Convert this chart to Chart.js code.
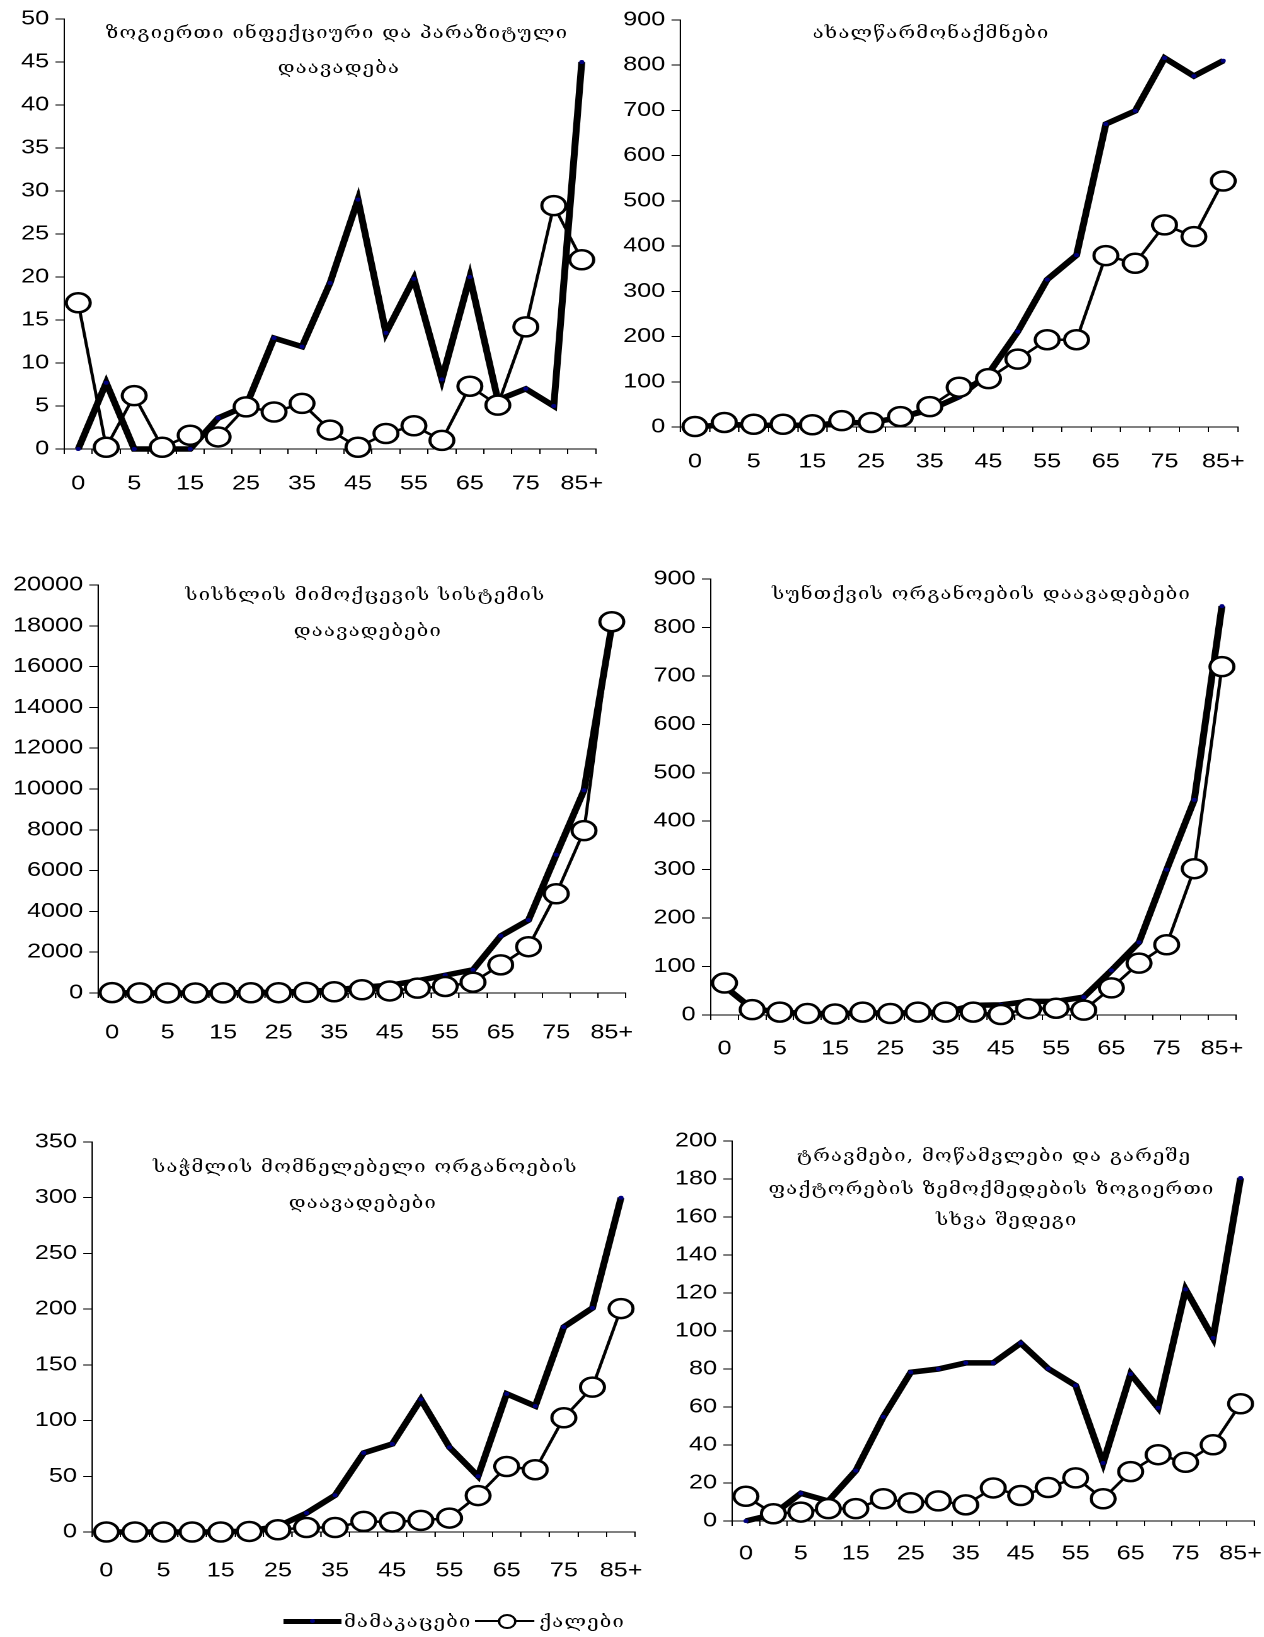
<!DOCTYPE html>
<html>
<head>
<meta charset="utf-8">
<script src="https://cdn.jsdelivr.net/npm/chart.js@4/dist/chart.umd.min.js"></script>
<style>
  body { margin: 0; background: #fff; overflow: hidden; }
  /* the whole sheet is drawn narrow and widened, so text and markers come out wide */
  #sheet { position: relative; width: 1003px; height: 1637px; transform: scaleX(1.26); transform-origin: 0 0; }
  .panel { position: absolute; }
  .title, .legend-text {
    position: absolute; white-space: nowrap; color: #000;
    font-family: "DejaVu Serif", "DejaVu Sans", serif; font-size: 16px; letter-spacing: 1px;
  }
  .title { transform: translate(-50%, -50%); }
  .legend-text { transform: translateY(-50%); }
  .legend-line { position: absolute; background: #000; }
  .legend-dot { position: absolute; width: 4px; height: 4px; background: #000080; border-radius: 50%; }
  .legend-circle { position: absolute; width: 11px; height: 11px; border: 2px solid #000; border-radius: 50%; background: #fff; }
</style>
</head>
<body>
<div id="sheet"></div>
<script>
const ages = ["0", "1", "5", "10", "15", "20", "25", "30", "35", "40", "45", "50", "55", "60", "65", "70", "75", "80", "85+"];

const infectiousMen = [0, 7.7, 0, 0, 0, 3.6, 5, 12.9, 11.9, 19.3, 29, 13.5, 19.8, 8.1, 20, 5.7, 7, 5, 45];
const infectiousWomen = [17, 0.2, 6.2, 0.2, 1.6, 1.4, 4.9, 4.3, 5.3, 2.2, 0.2, 1.8, 2.7, 1, 7.3, 5.1, 14.2, 28.3, 22];

const neoplasmMen = [0, 5, 4, 4, 4, 9, 10, 21, 38, 67, 118, 211, 326, 380, 670, 699, 816, 776, 810];
const neoplasmWomen = [1, 10, 6, 6, 5, 14, 10, 23, 45, 88, 107, 150, 193, 193, 379, 362, 447, 421, 544];

const circulatoryMen = [10, 5, 3, 3, 10, 20, 40, 80, 150, 280, 380, 600, 870, 1135, 2800, 3570, 6780, 9940, 18000];
const circulatoryWomen = [20, 5, 3, 2, 5, 10, 15, 30, 60, 160, 100, 240, 320, 530, 1380, 2270, 4865, 7960, 18200];

const respiratoryMen = [59, 13, 6, 3, 3, 4, 4, 5, 6, 20, 21, 28, 28, 37, 92, 150, 300, 444, 844];
const respiratoryWomen = [66, 11, 6, 3, 2, 6, 3, 6, 6, 6, 1, 13, 14, 10, 56, 107, 145, 302, 719];

const digestiveMen = [0, 0, 0, 0, 0, 1, 5, 17, 33, 71, 79, 119, 76, 50, 124, 113, 184, 201, 300];
const digestiveWomen = [0, 0, 0, 0, 0, 0.5, 2, 4, 4, 9.5, 9, 10.4, 12.5, 32.7, 58.8, 55.9, 102.5, 130, 200.5];

const injuryMen = [0, 3.5, 14.6, 10.5, 26.5, 54.8, 78.3, 80, 83.2, 83.2, 93.6, 80.2, 71.3, 30.5, 77.4, 59.6, 121.9, 96.3, 180.5];
const injuryWomen = [13, 3.8, 4.7, 6.5, 6.5, 11.7, 9.6, 10.6, 8.5, 17.4, 13.4, 17.6, 22.7, 11.7, 26, 34.9, 30.9, 40.1, 61.7];

const yMax = [50, 900, 20000, 900, 350, 200];
const yStep = [5, 100, 2000, 100, 50, 20];

const seriesNames = ["მამაკაცები", "ქალები"];

const titles = [
  ["ზოგიერთი ინფექციური და პარაზიტული", "დაავადება"],
  ["ახალწარმონაქმნები"],
  ["სისხლის მიმოქცევის სისტემის", "დაავადებები"],
  ["სუნთქვის ორგანოების დაავადებები"],
  ["საჭმლის მომნელებელი ორგანოების", "დაავადებები"],
  ["ტრავმები, მოწამვლები და გარეშე", "ფაქტორების ზემოქმედების ზოგიერთი", "სხვა შედეგი"]
];

// plot rectangles [left, top, right, bottom], x-label padding, title line centres [x, y]
const layouts = [
  { plot: [50.8, 16, 477, 449], xPad: 18, titleAt: [[267.5, 32], [269, 67]] },
  { plot: [539.7, 17, 986.5, 427], xPad: 18, titleAt: [[739, 32]] },
  { plot: [77.8, 582, 506.3, 993], xPad: 23, titleAt: [[290, 594], [292, 630]] },
  { plot: [563.9, 576, 983.7, 1015], xPad: 17, titleAt: [[779, 593]] },
  { plot: [73, 1139, 511.9, 1532], xPad: 22, titleAt: [[290, 1166], [288, 1202]] },
  { plot: [581, 1138, 997.6, 1521], xPad: 16, titleAt: [[789, 1155], [787, 1188], [799, 1219]] }
];

const series = [
  [infectiousMen, infectiousWomen],
  [neoplasmMen, neoplasmWomen],
  [circulatoryMen, circulatoryWomen],
  [respiratoryMen, respiratoryWomen],
  [digestiveMen, digestiveWomen],
  [injuryMen, injuryWomen]
];

const Y_AXIS_W = 75;
const X_AXIS_H = 50;
const PAD_TOP = 14;
const PAD_RIGHT = 20;
const tickFont = { family: "'Liberation Sans', Arial, sans-serif", size: 20 };

const sheet = document.getElementById("sheet");

function addText(cls, text, x, y) {
  const el = document.createElement("div");
  el.className = cls;
  el.textContent = text;
  el.style.left = x + "px";
  el.style.top = y + "px";
  sheet.appendChild(el);
}

series.forEach(([men, women], i) => {
  const [left, top, right, bottom] = layouts[i].plot;
  const box = document.createElement("div");
  box.className = "panel";
  box.style.left = (left - Y_AXIS_W) + "px";
  box.style.top = (top - PAD_TOP) + "px";
  box.style.width = (right - left + Y_AXIS_W + PAD_RIGHT) + "px";
  box.style.height = (bottom - top + PAD_TOP + X_AXIS_H) + "px";
  const canvas = document.createElement("canvas");
  box.appendChild(canvas);
  sheet.appendChild(box);

  new Chart(canvas, {
    type: "line",
    data: {
      labels: ages,
      datasets: [
        {
          label: seriesNames[0],
          data: men,
          borderColor: "#000",
          borderWidth: 5.5,
          pointRadius: 2,
          pointBackgroundColor: "#000080",
          pointBorderWidth: 0,
          order: 2,
          clip: false,
        },
        {
          label: seriesNames[1],
          data: women,
          borderColor: "#000",
          borderWidth: 2.5,
          pointRadius: 9.5,
          pointBackgroundColor: "#fff",
          pointBorderColor: "#000",
          pointBorderWidth: 2.5,
          order: 1,
          clip: false,
        },
      ],
    },
    options: {
      responsive: true,
      maintainAspectRatio: false,
      animation: false,
      devicePixelRatio: 2,
      events: [],
      layout: { padding: { top: PAD_TOP, right: PAD_RIGHT, left: 0, bottom: 0 } },
      plugins: {
        legend: { display: false },
        tooltip: { enabled: false },
      },
      scales: {
        x: {
          offset: true,
          grid: { offset: true, drawOnChartArea: false, tickLength: 5, color: "#000" },
          border: { color: "#000" },
          ticks: {
            autoSkip: false,
            maxRotation: 0,
            padding: layouts[i].xPad,
            color: "#000",
            font: tickFont,
            callback: (v, idx) => (idx % 2 ? "" : ages[idx]),
          },
          afterFit: (s) => { s.height = X_AXIS_H; },
        },
        y: {
          min: 0,
          max: yMax[i],
          grid: { drawOnChartArea: false, tickLength: 7, color: "#000" },
          border: { color: "#000" },
          ticks: {
            stepSize: yStep[i],
            padding: 5,
            color: "#000",
            font: tickFont,
            callback: (v) => String(v),
          },
          afterFit: (s) => { s.width = Y_AXIS_W; },
        },
      },
    },
  });

  titles[i].forEach((line, k) => {
    const [x, y] = layouts[i].titleAt[k];
    addText("title", line, x, y);
  });
});

// legend under the bottom row
const legendY = 1621;
function addBox(cls, x, y, w, h) {
  const el = document.createElement("div");
  el.className = cls;
  el.style.left = x + "px";
  el.style.top = y + "px";
  if (w) el.style.width = w + "px";
  if (h) el.style.height = h + "px";
  sheet.appendChild(el);
}
addBox("legend-line", 225, legendY - 2.5, 46, 5);
addBox("legend-dot", 246, legendY - 2);
addText("legend-text", seriesNames[0], 273, legendY);
addBox("legend-line", 377, legendY - 1.25, 47, 2.5);
addBox("legend-circle", 402 - 7.5, legendY - 7.5);
addText("legend-text", seriesNames[1], 428, legendY);
</script>
</body>
</html>
